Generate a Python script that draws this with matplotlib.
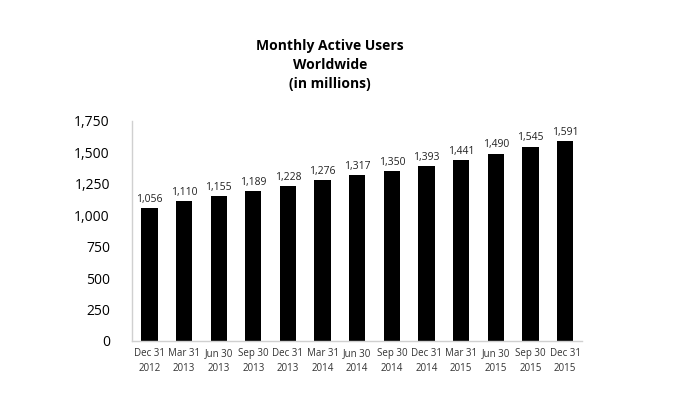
import numpy as np
import matplotlib.pyplot as plt

# %% Data
quarters = ['Dec 31\n2012', 'Mar 31\n2013', 'Jun 30\n2013', 'Sep 30\n2013',
            'Dec 31\n2013', 'Mar 31\n2014', 'Jun 30\n2014', 'Sep 30\n2014',
            'Dec 31\n2014', 'Mar 31\n2015', 'Jun 30\n2015', 'Sep 30\n2015',
            'Dec 31\n2015']
users = [1056, 1110, 1155, 1189, 1228, 1276, 1317, 1350, 1393, 1441,
         1490, 1545, 1591]
yticks = [0, 250, 500, 750, 1000, 1250, 1500, 1750]

plt.rcParams['font.family'] = ['Open Sans', 'DejaVu Sans']

# %% Plot
fig = plt.figure(figsize=(6.74, 4.04), dpi=100)
ax = fig.add_axes([0.196, 0.156, 0.668, 0.545])

x = np.arange(len(users))
bars = ax.bar(x, users, width=0.47, color='black')

for xi, v in zip(x, users):
    ax.text(xi, v + 25, f'{v:,}', ha='center', va='bottom', fontsize=7.5,
            color='#222222')

ax.set_xlim(-0.5, len(users) - 0.5)
ax.set_ylim(0, 1750)
ax.set_yticks(yticks)
ax.set_yticklabels([f'{t:,}' for t in yticks], fontsize=10)
ax.set_xticks(x)
ax.set_xticklabels(quarters, fontsize=7, color='#333333', linespacing=1.5)
ax.tick_params(axis='y', length=0, pad=16)
ax.tick_params(axis='x', length=0, pad=5)

for side in ['top', 'right']:
    ax.spines[side].set_visible(False)
for side in ['left', 'bottom']:
    ax.spines[side].set_color('#d0d0d0')
    ax.spines[side].set_linewidth(1)

fig.text(0.49, 0.84, 'Monthly Active Users\nWorldwide\n(in millions)',
         ha='center', va='center', fontsize=10, fontweight='bold',
         linespacing=1.45)

fig.savefig('out.png', dpi=100)
